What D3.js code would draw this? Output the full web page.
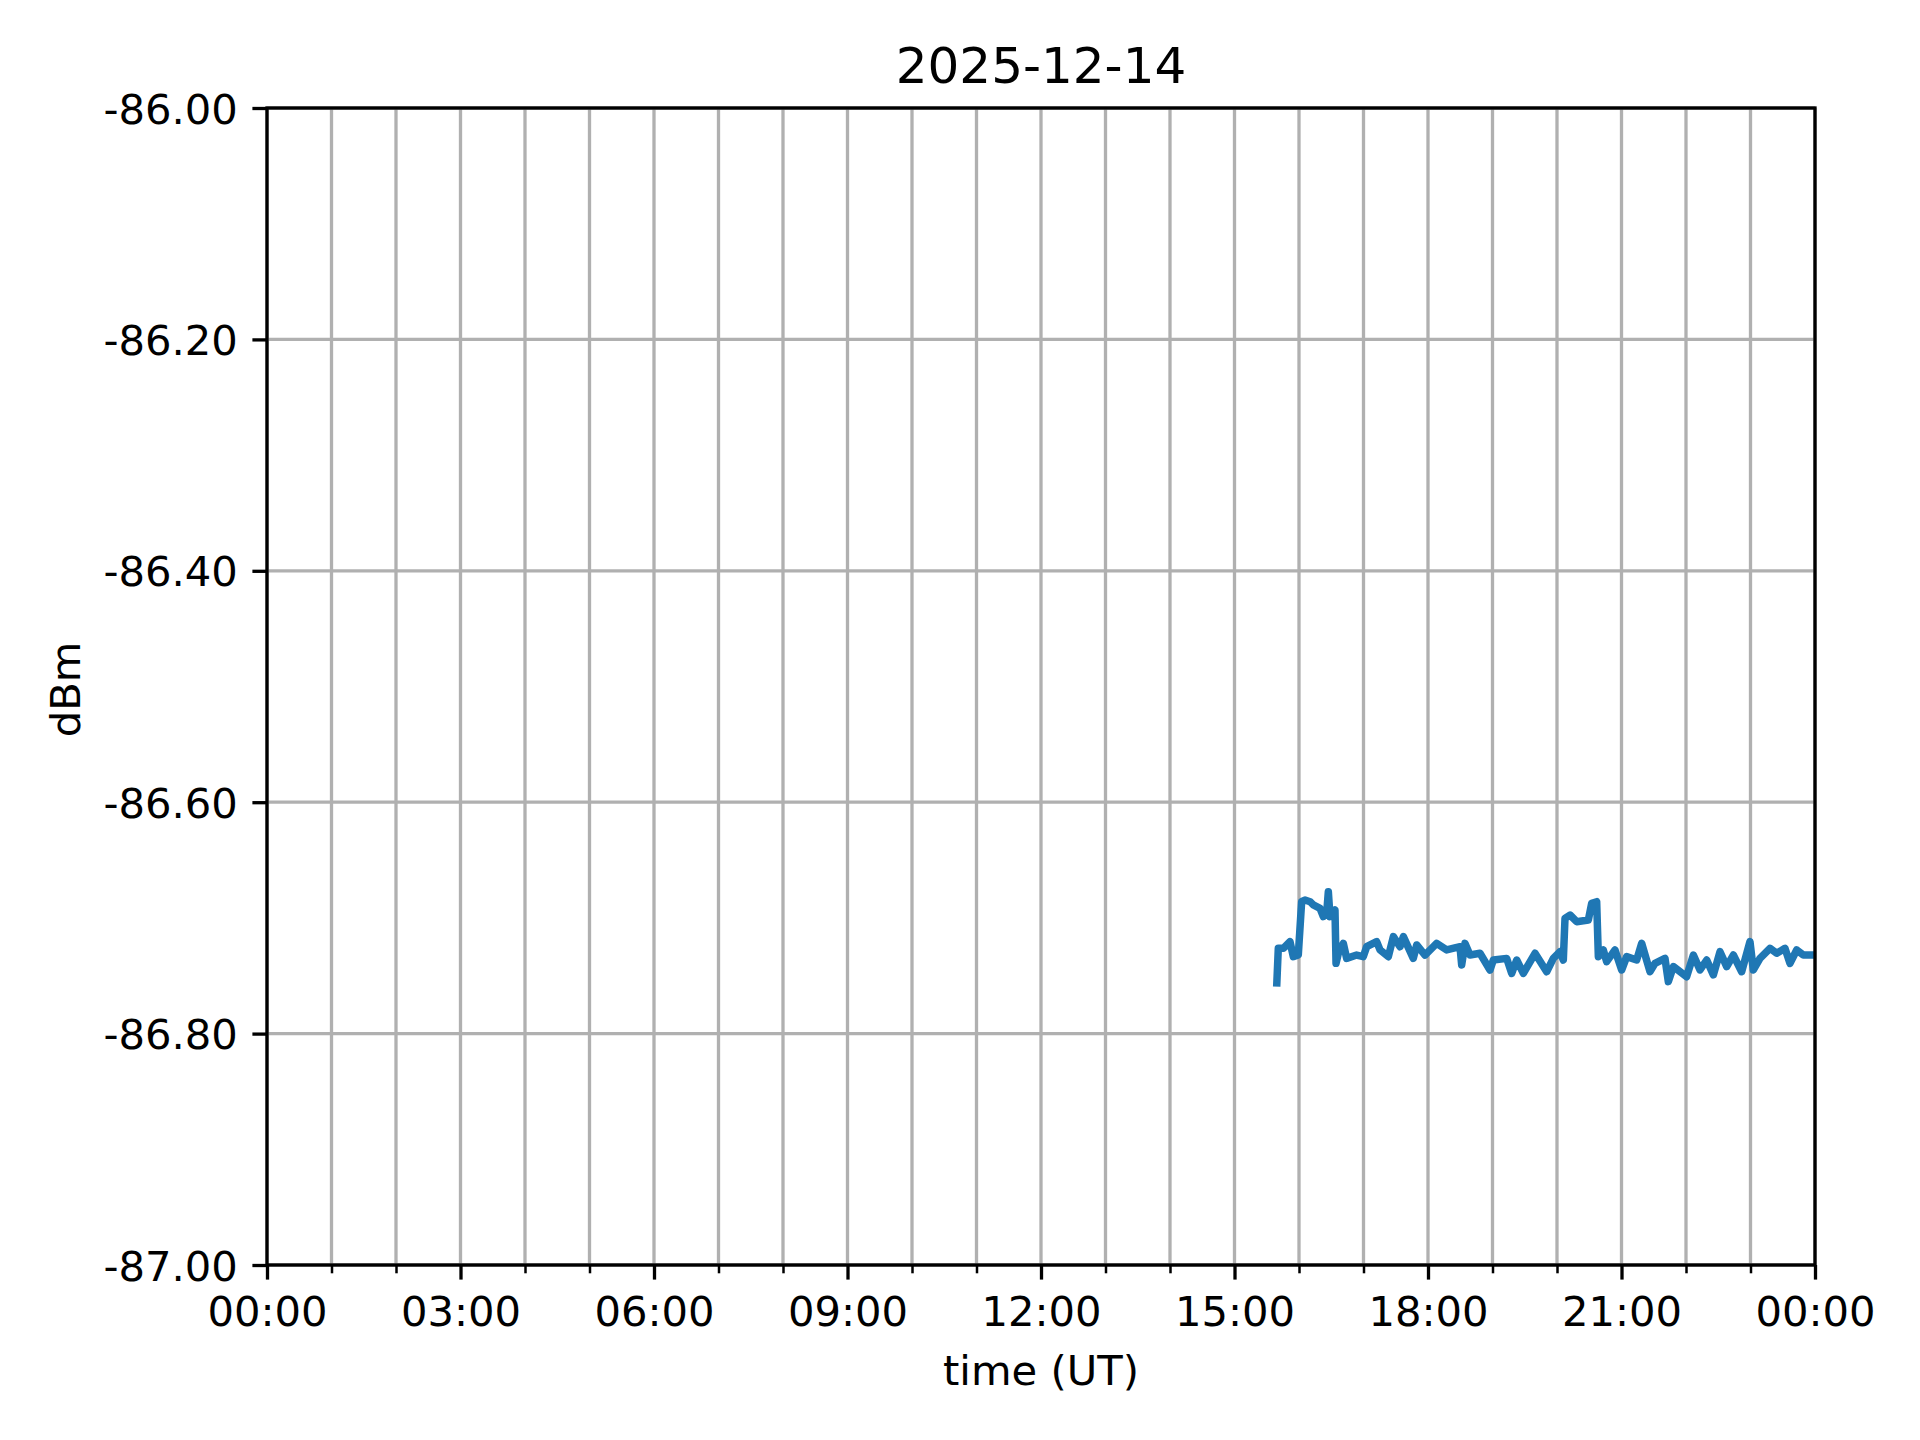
<!DOCTYPE html>
<html>
<head>
<meta charset="utf-8">
<script src="https://cdn.jsdelivr.net/npm/d3@7"></script>
<style>
  html, body { margin: 0; padding: 0; background: #ffffff; }
  svg { display: block; }
  text { font-family: "DejaVu Sans", sans-serif; fill: #000; }
</style>
</head>
<body>
<script>
// ---- data ----
const title = "2025-12-14";
const xLabel = "time (UT)";
const yLabel = "dBm";
const dayStartUTC = Date.UTC(2025, 11, 14);

// time of day in hours (UT)
const hours = [
  15.654, 15.679, 15.757, 15.860, 15.912, 15.989, 16.041, 16.093, 16.171, 16.222,
  16.326, 16.377, 16.429, 16.455, 16.481, 16.558, 16.574, 16.610, 16.687, 16.739,
  16.894, 16.997, 17.049, 17.204, 17.256, 17.385, 17.463, 17.566, 17.618, 17.772,
  17.825, 17.953, 18.134, 18.289, 18.496, 18.522, 18.574, 18.651, 18.806, 18.961,
  19.013, 19.220, 19.297, 19.375, 19.478, 19.659, 19.840, 19.943, 20.047, 20.098,
  20.124, 20.202, 20.305, 20.486, 20.538, 20.615, 20.641, 20.718, 20.770, 20.899,
  21.003, 21.080, 21.235, 21.313, 21.442, 21.519, 21.674, 21.726, 21.804, 22.010,
  22.114, 22.217, 22.321, 22.424, 22.527, 22.631, 22.734, 22.863, 22.992, 23.044,
  23.147, 23.302, 23.406, 23.535, 23.612, 23.716, 23.819, 23.974, 24.000
];
// received power in dBm
const power = [
  -86.7594, -86.7263, -86.7263, -86.7205, -86.7335, -86.7321, -86.6860, -86.6845, -86.6860, -86.6888,
  -86.6917, -86.6989, -86.6961, -86.6773, -86.6989, -86.6932, -86.7393, -86.7306, -86.7220, -86.7350,
  -86.7321, -86.7335, -86.7249, -86.7205, -86.7277, -86.7335, -86.7162, -86.7249, -86.7162, -86.7350,
  -86.7234, -86.7321, -86.7220, -86.7277, -86.7249, -86.7407, -86.7220, -86.7321, -86.7306, -86.7450,
  -86.7364, -86.7350, -86.7479, -86.7364, -86.7479, -86.7306, -86.7465, -86.7350, -86.7292, -86.7364,
  -86.7004, -86.6975, -86.7033, -86.7018, -86.6874, -86.6860, -86.7335, -86.7277, -86.7378, -86.7277,
  -86.7450, -86.7335, -86.7364, -86.7220, -86.7465, -86.7393, -86.7350, -86.7551, -86.7421, -86.7508,
  -86.7321, -86.7450, -86.7364, -86.7493, -86.7292, -86.7421, -86.7321, -86.7465, -86.7205, -86.7450,
  -86.7350, -86.7263, -86.7306, -86.7263, -86.7393, -86.7277, -86.7321, -86.7321, -86.7321
];

const yTicks = [-86.0, -86.2, -86.4, -86.6, -86.8, -87.0];
const xMajorHours = [0, 3, 6, 9, 12, 15, 18, 21, 24];
const xMinorHours = [1, 2, 4, 5, 7, 8, 10, 11, 13, 14, 16, 17, 19, 20, 22, 23];

// ---- layout ----
const W = 1920, H = 1440;
const plot = { left: 267, right: 1815, top: 108, bottom: 1265 };
const lineColor = "#1f77b4";
const gridColor = "#b0b0b0";
const fs = 41.7;

const toDate = h => new Date(dayStartUTC + h * 3600000);

const x = d3.scaleUtc()
  .domain([toDate(0), toDate(24)])
  .range([plot.left, plot.right]);
const y = d3.scaleLinear()
  .domain([-87, -86])
  .range([plot.bottom, plot.top]);

const svg = d3.select("body").append("svg")
  .attr("width", W).attr("height", H)
  .attr("viewBox", `0 0 ${W} ${H}`);

svg.append("rect").attr("width", W).attr("height", H).attr("fill", "#fff");

// grid
const grid = svg.append("g").attr("stroke", gridColor).attr("stroke-width", 3.3);
grid.selectAll("line.vx")
  .data(xMajorHours.concat(xMinorHours))
  .join("line")
  .attr("x1", h => x(toDate(h))).attr("x2", h => x(toDate(h)))
  .attr("y1", plot.top).attr("y2", plot.bottom);
grid.selectAll("line.hy")
  .data(yTicks)
  .join("line")
  .attr("x1", plot.left).attr("x2", plot.right)
  .attr("y1", d => y(d)).attr("y2", d => y(d));

// data line
const data = hours.map((h, i) => ({ t: toDate(h), v: power[i] }));
svg.append("path")
  .datum(data)
  .attr("fill", "none")
  .attr("stroke", lineColor)
  .attr("stroke-width", 7.5)
  .attr("stroke-linejoin", "round")
  .attr("stroke-linecap", "butt")
  .attr("d", d3.line().x(d => x(d.t)).y(d => y(d.v)));

// axes
const fmtTime = d3.utcFormat("%H:%M");
const xAxis = d3.axisBottom(x)
  .tickValues(xMajorHours.map(toDate))
  .tickFormat(fmtTime)
  .tickSize(14.6)
  .tickPadding(14.6);
const gx = svg.append("g")
  .attr("transform", `translate(0,${plot.bottom})`)
  .call(xAxis);
gx.select(".domain").remove();
gx.selectAll(".tick line").attr("stroke", "#000").attr("stroke-width", 3.3);
gx.selectAll(".tick text")
  .attr("font-family", "DejaVu Sans")
  .attr("font-size", fs)
  .attr("fill", "#000")
  .attr("dy", "0.76em");

const xMinorAxis = d3.axisBottom(x)
  .tickValues(xMinorHours.map(toDate))
  .tickFormat("")
  .tickSize(8.3);
const gxm = svg.append("g")
  .attr("transform", `translate(0,${plot.bottom})`)
  .call(xMinorAxis);
gxm.select(".domain").remove();
gxm.selectAll(".tick line").attr("stroke", "#000").attr("stroke-width", 2.5);

const yAxis = d3.axisLeft(y)
  .tickValues(yTicks)
  .tickFormat(d3.format(".2f"))
  .tickSize(14.6)
  .tickPadding(14.6);
const gy = svg.append("g")
  .attr("transform", `translate(${plot.left},0)`)
  .call(yAxis);
gy.select(".domain").remove();
gy.selectAll(".tick line").attr("stroke", "#000").attr("stroke-width", 3.3);
gy.selectAll(".tick text")
  .attr("font-family", "DejaVu Sans")
  .attr("font-size", fs)
  .attr("fill", "#000")
  .attr("dy", "0.36em")
  .text(d => d3.format(".2f")(d).replace("\u2212", "-"));

// spines
svg.append("rect")
  .attr("x", plot.left).attr("y", plot.top)
  .attr("width", plot.right - plot.left)
  .attr("height", plot.bottom - plot.top)
  .attr("fill", "none")
  .attr("stroke", "#000")
  .attr("stroke-width", 3.3)
  .attr("stroke-linecap", "square");

// labels
svg.append("text")
  .attr("x", (plot.left + plot.right) / 2)
  .attr("y", 83)
  .attr("text-anchor", "middle")
  .attr("font-size", 50)
  .text(title);

svg.append("text")
  .attr("x", (plot.left + plot.right) / 2)
  .attr("y", 1385)
  .attr("text-anchor", "middle")
  .attr("font-size", fs)
  .text(xLabel);

svg.append("text")
  .attr("transform", `translate(80,${(plot.top + plot.bottom) / 2 + 3}) rotate(-90)`)
  .attr("text-anchor", "middle")
  .attr("font-size", fs)
  .text(yLabel);
</script>
</body>
</html>
